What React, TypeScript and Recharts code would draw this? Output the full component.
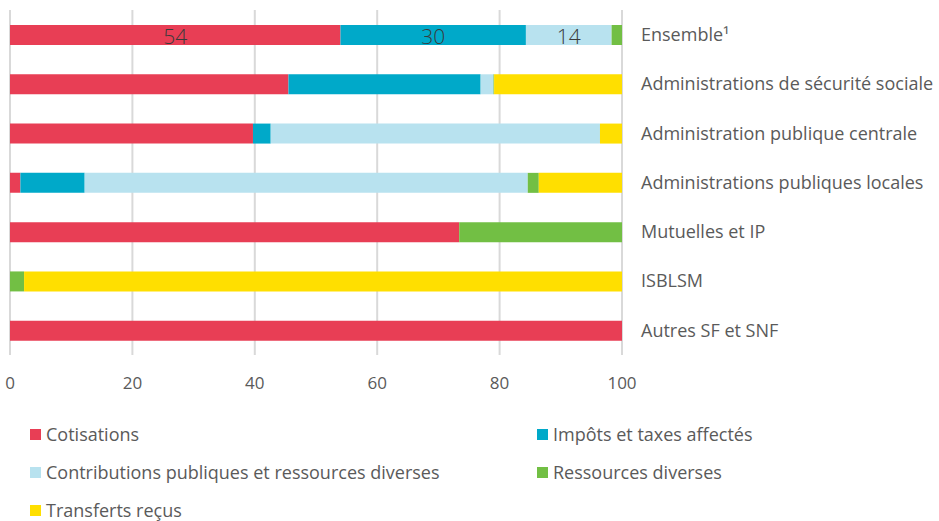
import React from "react"
import { BarChart, Bar, XAxis, YAxis, CartesianGrid, LabelList } from "recharts"

const categories = [
  "Ensemble¹",
  "Administrations de sécurité sociale",
  "Administration publique centrale",
  "Administrations publiques locales",
  "Mutuelles et IP",
  "ISBLSM",
  "Autres SF et SNF",
]

const cotisations = [54.0, 45.5, 39.7, 1.7, 73.4, 0, 100]
const impots = [30.3, 31.4, 2.9, 10.5, 0, 0, 0]
const contributions = [14.0, 2.1, 53.8, 72.4, 0, 0, 0]
const ressources = [1.7, 0.1, 0, 1.8, 26.6, 2.3, 0]
const transferts = [0, 20.9, 3.6, 13.6, 0, 97.7, 0]

const xTicks = [0, 20, 40, 60, 80, 100]

const series = [
  { key: "cotisations", name: "Cotisations", color: "#e83e55", values: cotisations, label: true },
  { key: "impots", name: "Impôts et taxes affectés", color: "#00a9c9", values: impots, label: true },
  { key: "contributions", name: "Contributions publiques et ressources diverses", color: "#b8e2ef", values: contributions, label: true },
  { key: "ressources", name: "Ressources diverses", color: "#72bf44", values: ressources, label: false },
  { key: "transferts", name: "Transferts reçus", color: "#ffdf00", values: transferts, label: false },
]

const data = categories.map((name, i) => {
  const row: Record<string, string | number> = { name }
  series.forEach((s) => {
    row[s.key] = s.values[i]
  })
  return row
})

const FONT = "'Open Sans', Lato, sans-serif"
const TEXT = "#5a5a5a"

// only the first row carries value labels
const firstRowLabel = (props: any) => {
  const { x, y, width, height, value, index } = props
  if (index !== 0) return null
  return (
    <text
      x={x + width / 2}
      y={y + height / 2 + 1}
      textAnchor="middle"
      dominantBaseline="central"
      fontSize={21}
      fontFamily={FONT}
      fontWeight={300}
      fill="#3a3a3a"
    >
      {Math.round(value)}
    </text>
  )
}

export default function App() {
  return (
    <div style={{ position: "absolute", left: 0, top: 0, width: 939, height: 521, background: "#fff", fontFamily: FONT }}>
      <BarChart
        width={939}
        height={400}
        data={data}
        layout="vertical"
        margin={{ top: 10, right: 0, left: 10, bottom: 3 }}
        barSize={20}
      >
        <CartesianGrid horizontal={false} stroke="#d9d9d9" strokeWidth={2} />
        <XAxis
          type="number"
          domain={[0, 100]}
          ticks={xTicks}
          axisLine={false}
          tickLine={false}
          tickMargin={16}
          height={42}
          tick={{ fontSize: 17, fill: TEXT, fontFamily: FONT }}
        />
        <YAxis
          type="category"
          dataKey="name"
          orientation="right"
          width={317}
          axisLine={false}
          tickLine={false}
          tickMargin={13}
          tick={{ fontSize: 18, fill: TEXT, fontFamily: FONT, textAnchor: "start" }}
        />
        {series.map((s) => (
          <Bar key={s.key} dataKey={s.key} name={s.name} stackId="a" fill={s.color} isAnimationActive={false}>
            {s.label && <LabelList dataKey={s.key} content={firstRowLabel} />}
          </Bar>
        ))}
      </BarChart>
      <div style={{ position: "absolute", left: 30, top: 422, width: 900 }}>
        {series.map((s, i) => (
          <div
            key={s.key}
            style={{
              position: "absolute",
              left: i % 2 === 0 ? 0 : 507,
              top: Math.floor(i / 2) * 38,
              display: "flex",
              alignItems: "center",
              fontSize: 18,
              color: TEXT,
              whiteSpace: "nowrap",
            }}
          >
            <span style={{ display: "inline-block", width: 11, height: 11, background: s.color, marginRight: 5 }} />
            {s.name}
          </div>
        ))}
      </div>
    </div>
  )
}
